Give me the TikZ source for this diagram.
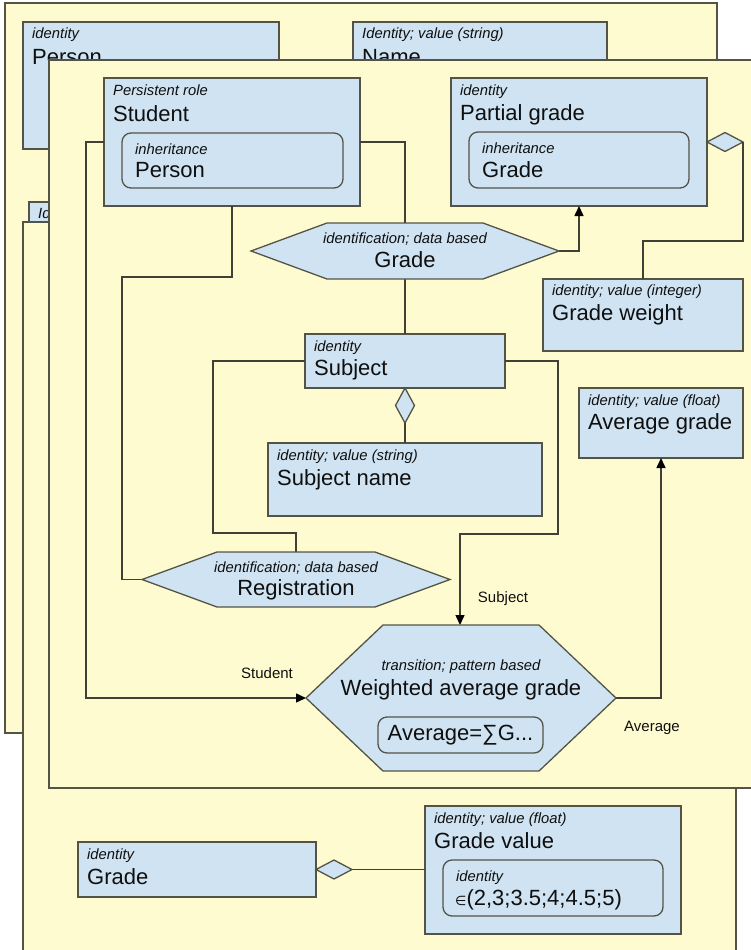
\documentclass[tikz,border=0pt]{standalone}
\usepackage{fontspec}
\setmainfont{Liberation Sans}
\newfontfamily\symfont{DejaVu Sans}
\usetikzlibrary{arrows.meta,calc,shapes.geometric}

\definecolor{pagefill}{RGB}{255,251,208}
\definecolor{boxblue}{RGB}{207,227,242}
\definecolor{edgecol}{RGB}{84,84,70}
\definecolor{linecol}{RGB}{64,64,52}
\definecolor{txt}{RGB}{15,15,15}

% hexagon outline around an invisible rectangular node
\newcommand{\hexoutline}[2]{%
  \draw[hexbox] (#1.west) -- ($(#1.north west)+(#2,0)$) -- ($(#1.north east)+(-#2,0)$)
    -- (#1.east) -- ($(#1.south east)+(-#2,0)$) -- ($(#1.south west)+(#2,0)$) -- cycle;}

\begin{document}
\begin{tikzpicture}[x=1pt,y=-1pt,
  page/.style={draw=edgecol, fill=pagefill, line width=1.4pt},
  box/.style={draw=edgecol, fill=boxblue, line width=1.3pt, anchor=north west,
    inner sep=0pt, outer sep=0pt},
  inbox/.style={box, rounded corners=9pt},
  hexbox/.style={draw=edgecol, fill=boxblue, line width=1.3pt},
  hexframe/.style={rectangle, draw=none, inner sep=0pt, outer sep=0pt},
  kind/.style={anchor=base west, inner sep=0pt, text=txt,
    font=\fontsize{14.8}{17}\selectfont\itshape},
  title/.style={anchor=base west, inner sep=0pt, text=txt,
    font=\fontsize{22}{25}\selectfont},
  kindc/.style={kind, anchor=base},
  titlec/.style={title, anchor=base},
  elabel/.style={inner sep=0pt, text=txt, font=\fontsize{15}{17}\selectfont},
  conn/.style={draw=linecol, line width=1.5pt},
  arr/.style={conn, -{Triangle[length=10pt,width=9pt,color=black]}},
  agg/.style={diamond, draw=edgecol, fill=boxblue, line width=1.3pt,
    inner sep=0pt, outer sep=0pt}
]
\clip (0,0) rectangle (751,950);
\fill[white] (0,0) rectangle (751,950);

% ---------- back sheet ----------
\draw[page] (5,3) rectangle (717,733);
\node[box, minimum width=256pt, minimum height=127pt] (personA) at (23,22) {};
\node[kind] (personA-k) at (32,39) {identity};
\node[title] (personA-t) at (32,64) {Person};
\node[box, minimum width=254pt, minimum height=128pt] (nameA) at (353,22) {};
\node[kind] (nameA-k) at (362,39) {Identity; value (string)};
\node[title] (nameA-t) at (362,64) {Name};
\node[box, minimum width=200pt, minimum height=100pt] (idA) at (29,202) {};
\node[kind] (idA-k) at (38,218) {Identity};

% ---------- middle sheet ----------
\draw[page] (23,222) rectangle (736,1000);
\node[box, minimum width=238pt, minimum height=55pt] (gradeB) at (78,842) {};
\node[kind] (gradeB-k) at (87,859) {identity};
\node[title] (gradeB-t) at (87,884) {Grade};
\node[box, minimum width=256pt, minimum height=128pt] (gval) at (425,806) {};
\node[kind] (gval-k) at (434,823) {identity; value (float)};
\node[title] (gval-t) at (434,848) {Grade value};
\node[inbox, minimum width=220pt, minimum height=56pt] (gval-in) at (443,860) {};
\node[kind] (gval-in-k) at (456,881) {identity};
\node[title] (gval-in-t) at (455,905) {{\symfont\fontsize{13}{14}\selectfont ∈}(2,3;3.5;4;4.5;5)};
\node[agg, minimum width=36pt, minimum height=19pt, anchor=west] (gradeB-d) at (gradeB.east) {};
\draw[conn] (gradeB-d.east) -- (gradeB-d.east -| gval.west);

% ---------- front sheet ----------
\draw[page] (49,60) rectangle (800,788);

% shape frames (invisible, used for anchoring)
\node[hexframe, minimum width=308pt, minimum height=56pt] (gradehex) at (405,251) {};
\node[hexframe, minimum width=308pt, minimum height=55pt] (reg) at (296,579.5) {};
\node[hexframe, minimum width=310pt, minimum height=146pt] (wavg) at (461,698) {};

\node[box, minimum width=256pt, minimum height=128pt] (student) at (104,78) {};
\node[box, minimum width=256pt, minimum height=128pt] (partial) at (451,78) {};
\node[box, minimum width=200pt, minimum height=72pt] (weight) at (543,279) {};
\node[box, minimum width=164pt, minimum height=70pt] (avg) at (579,388) {};
\node[box, minimum width=200pt, minimum height=54pt] (subject) at (305,334) {};
\node[box, minimum width=274pt, minimum height=73pt] (subname) at (268,443) {};

% connectors
\draw[arr] (student.west) -- ++(-18,0) |- (wavg.west);
\draw[conn] (student.east) -| (gradehex.north);
\draw[conn] (student.south) -- ++(0,71) -| ($(reg.west)+(-20,0)$) -- (reg.west);
\draw[conn] (gradehex.south) -- (subject.north);
\draw[arr] (gradehex.east) -| (partial.south);
\draw[conn] (subject.west) -- ++(-92,0) |- ($(reg.north)+(0,-19)$) -- (reg.north);
\draw[arr] (subject.east) -- ++(53,0) |- ($(wavg.north)+(-1,-91)$) -- ($(wavg.north)+(-1,0)$);
\draw[arr] (wavg.east) -| (avg.south);

% aggregation diamonds
\node[agg, minimum width=36pt, minimum height=19pt, anchor=west] (partial-d) at (partial.east) {};
\draw[conn] (partial-d.east) -- ++(0,99) -| (weight.north);
\node[agg, minimum width=19pt, minimum height=35pt, anchor=north] (subject-d) at (subject.south) {};
\draw[conn] (subject-d.south) -- (subname.north);

% hexagons
\hexoutline{gradehex}{76}
\hexoutline{reg}{75}
\hexoutline{wavg}{77}

% texts
\node[kind] (student-k) at (113,95) {Persistent role};
\node[title] (student-t) at (113,121) {Student};
\node[inbox, minimum width=221pt, minimum height=55pt] (student-in) at (122,133) {};
\node[kind] (student-in-k) at (135,154) {inheritance};
\node[title] (student-in-t) at (135,177) {Person};

\node[kind] (partial-k) at (460,95) {identity};
\node[title] (partial-t) at (460,120) {Partial grade};
\node[inbox, minimum width=220pt, minimum height=56pt] (partial-in) at (469,132) {};
\node[kind] (partial-in-k) at (482,153) {inheritance};
\node[title] (partial-in-t) at (482,177) {Grade};

\node[kind] (weight-k) at (552,295) {identity; value (integer)};
\node[title] (weight-t) at (552,320) {Grade weight};
\node[kind] (avg-k) at (588,405) {identity; value (float)};
\node[title] (avg-t) at (588,429) {Average grade};
\node[kind] (subject-k) at (314,351) {identity};
\node[title] (subject-t) at (314,375) {Subject};
\node[kind] (subname-k) at (277,460) {identity; value (string)};
\node[title] (subname-t) at (277,485) {Subject name};

\node[kindc] (gradehex-k) at (405,243) {identification; data based};
\node[titlec] (gradehex-t) at (405,267) {Grade};
\node[kindc] (reg-k) at (296,572) {identification; data based};
\node[titlec] (reg-t) at (296,595) {Registration};
\node[kindc] (wavg-k) at (461,670) {transition; pattern based};
\node[titlec] (wavg-t) at (461,695) {Weighted average grade};
\node[inbox, minimum width=165pt, minimum height=36pt] (wavg-in) at (378,717) {};
\node[inner sep=0pt, text=txt, font=\fontsize{22}{25}\selectfont] (wavg-in-t) at (wavg-in.center) {Average=∑G...};

% edge labels
\node[elabel] (lbl-student) at (267,673) {Student};
\node[elabel] (lbl-subject) at (503,599) {Subject};
\node[elabel] (lbl-average) at (652,728) {Average};
\end{tikzpicture}
\end{document}
